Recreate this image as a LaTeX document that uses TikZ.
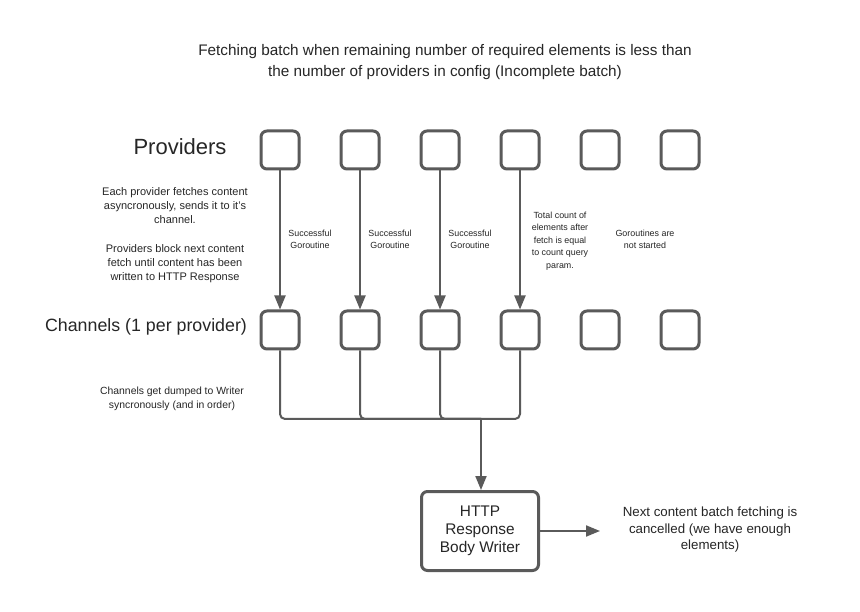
\documentclass[tikz,border=0pt]{standalone}
\usepackage{fontspec}
\setmainfont{Liberation Sans}
\usetikzlibrary{arrows.meta}
\definecolor{boxgray}{HTML}{5A5A5A}
\definecolor{textgray}{HTML}{262626}
\tikzset{
	slot/.style={draw=boxgray, line width=3pt, rounded corners=6pt, minimum width=38pt, minimum height=38pt, inner sep=0pt},
	writerbox/.style={draw=boxgray, line width=3pt, rounded corners=6pt, minimum width=117pt, minimum height=79pt, inner sep=0pt, align=center, font=\fontsize{15.4}{18}\selectfont, text=textgray},
	wire/.style={draw=boxgray, line width=2pt},
	feed/.style={wire, -{Triangle[length=14pt, width=11pt]}},
	note/.style={align=center, text=textgray, inner sep=0pt},
}

\begin{document}
\begin{tikzpicture}[x=1pt, y=-1pt]
		%%%%% START %%%%%
		
		\useasboundingbox[fill=white] (0, 0) rectangle (860, 612);
		
		\node[note, font=\fontsize{15.3}{20.5}\selectfont] (title) at (445, 62) {Fetching batch when remaining number of required elements is less than\\the number of providers in config (Incomplete batch)};
		
		\node[note, font=\fontsize{22}{25}\selectfont] (plabel) at (180, 147) {Providers};
		\node[note, font=\fontsize{17.8}{21}\selectfont] (clabel) at (146, 327) {Channels (1 per provider)};
		
		\node[slot] (p1) at (280, 150) {};
		\node[slot] (p2) at (360, 150) {};
		\node[slot] (p3) at (440, 150) {};
		\node[slot] (p4) at (520, 150) {};
		\node[slot] (p5) at (600, 150) {};
		\node[slot] (p6) at (680, 150) {};
		
		\node[slot] (c1) at (280, 330) {};
		\node[slot] (c2) at (360, 330) {};
		\node[slot] (c3) at (440, 330) {};
		\node[slot] (c4) at (520, 330) {};
		\node[slot] (c5) at (600, 330) {};
		\node[slot] (c6) at (680, 330) {};
		
		\node[note, font=\fontsize{11}{14.2}\selectfont] (fetchnote) at (175, 235) {Each provider fetches content\\asyncronously, sends it to it's\\channel.\\[14.2pt]Providers block next content\\fetch until content has been\\written to HTTP Response};
		
		\node[note, font=\fontsize{8.9}{12}\selectfont] (g1) at (310, 239) {Successful\\Goroutine};
		\node[note, font=\fontsize{8.9}{12}\selectfont] (g2) at (390, 239) {Successful\\Goroutine};
		\node[note, font=\fontsize{8.9}{12}\selectfont] (g3) at (470, 239) {Successful\\Goroutine};
		\node[note, font=\fontsize{8.9}{12.5}\selectfont] (g4) at (560, 241) {Total count of\\elements after\\fetch is equal\\to count query\\param.};
		\node[note, font=\fontsize{8.9}{12}\selectfont] (g5) at (645, 239) {Goroutines are\\not started};
		
		\draw[feed] (p1) -- (c1);
		\draw[feed] (p2) -- (c2);
		\draw[feed] (p3) -- (c3);
		\draw[feed] (p4) -- (c4);
		
		\node[note, font=\fontsize{10.4}{14.2}\selectfont] (dumpnote) at (172, 399) {Channels get dumped to Writer\\syncronously (and in order)};
		
		\node[writerbox] (writer) at (480, 531) {HTTP\\Response\\Body Writer};
		\coordinate (bus) at (481, 419);
		
		\draw[wire, rounded corners=5pt] (c1.south) |- (bus);
		\draw[wire, rounded corners=5pt] (c2.south) |- (bus);
		\draw[wire, rounded corners=5pt] (c3.south) |- (bus);
		\draw[wire, rounded corners=5pt] (c4.south) |- (bus);
		\draw[feed] (bus) -- (writer.north -| bus);
		
		\node[note, font=\fontsize{13.3}{16.5}\selectfont] (cancelnote) at (710, 530) {Next content batch fetching is\\cancelled (we have enough\\elements)};
		\coordinate (cancelend) at (600, 531);
		\draw[feed] (writer.east) -- (cancelend);
		
		%%%%% END %%%%%
	\end{tikzpicture}
\end{document}
